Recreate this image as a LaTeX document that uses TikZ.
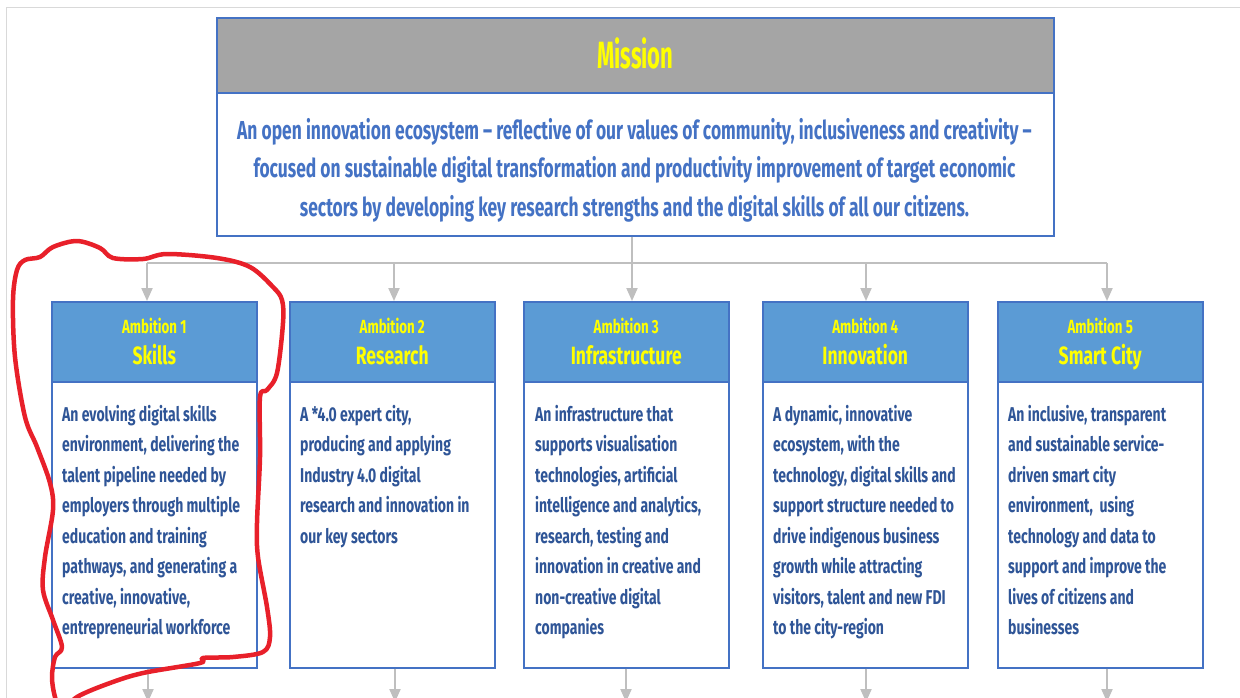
\documentclass[tikz,border=0pt]{standalone}
\usepackage{fontspec}
\setmainfont{Fira Sans}[FakeStretch=0.58]
\newfontfamily\condA{Fira Sans}[FakeStretch=0.67]
\newfontfamily\condB{Fira Sans}[FakeStretch=0.70]
\usetikzlibrary{arrows.meta}
\definecolor{mborder}{HTML}{4472C4}
\definecolor{mgray}{HTML}{A5A5A5}
\definecolor{hfill}{HTML}{5B9BD5}
\definecolor{mtext}{HTML}{4472C4}
\definecolor{btext}{HTML}{2F5597}
\definecolor{ylw}{HTML}{FFFF00}
\definecolor{conngray}{HTML}{BFBFBF}
\definecolor{framegray}{HTML}{D9D9D9}
\definecolor{pen}{HTML}{E8202A}
\begin{document}
\begin{tikzpicture}[x=1pt,y=-1pt,
  box/.style={draw=mborder,line width=1.5pt,anchor=north west,inner sep=0pt},
  mhead/.style={box,fill=mgray,minimum width=837pt,minimum height=75pt,text=ylw,font=\bfseries\fontsize{38}{40}\selectfont},
  mbody/.style={box,fill=white,minimum width=837pt,minimum height=143pt},
  ahead/.style={box,fill=hfill,minimum width=205pt,minimum height=80pt},
  htext/.style={inner sep=0pt,yshift=-2pt,text=ylw,align=center,font=\condB\bfseries\fontsize{25}{31}\selectfont},
  abody/.style={box,fill=white,minimum width=205pt,minimum height=286pt},
  atext/.style={anchor=north west,inner sep=0pt,align=left,text=btext,font=\condB\bfseries\fontsize{20}{30.5}\selectfont},
  conn/.style={draw=conngray,line width=2pt},
  arr/.style={conn,-{Triangle[width=11pt,length=13pt]}}
]
\useasboundingbox (0,0) rectangle (1240,697);
\clip (0,0) rectangle (1240,697);
\fill[white] (0,0) rectangle (1240,697);
\draw[framegray,line width=1pt] (6,700) -- (6,7) -- (1240,7);

% Mission
\node[mhead] (mh) at (216,17) {\raisebox{4pt}{Mission}};
\node[mbody] (mb) at (216,92) {};
\node[align=center,text=mtext,font=\condA\bfseries\fontsize{26}{38.5}\selectfont,inner sep=0pt] (mt) at (634.5,170)
 {An open innovation ecosystem – reflective of our values of community, inclusiveness and creativity –\\
  focused on sustainable digital transformation and productivity improvement of target economic\\
  sectors by developing key research strengths and the digital skills of all our citizens.};

% Ambition boxes
\newcommand{\ahd}[2]{{\fontsize{19}{31}\selectfont #1}\\{\fontsize{25}{31}\selectfont #2\vphantom{y}}}
\node[ahead] (h1) at (51,301) {};
\node[ahead] (h2) at (289,301) {};
\node[ahead] (h3) at (523,301) {};
\node[ahead] (h4) at (762,301) {};
\node[ahead] (h5) at (997,301) {};
\node[htext] (ht1) at (h1.center) {\ahd{Ambition 1}{Skills}};
\node[htext] (ht2) at (h2.center) {\ahd{Ambition 2}{Research}};
\node[htext] (ht3) at (h3.center) {\ahd{Ambition 3}{Infrastructure}};
\node[htext] (ht4) at (h4.center) {\ahd{Ambition 4}{Innovation}};
\node[htext] (ht5) at (h5.center) {\ahd{Ambition 5}{Smart City}};

\node[abody] (b1) at (51,381) {};
\node[abody] (b2) at (289,381) {};
\node[abody] (b3) at (523,381) {};
\node[abody] (b4) at (762,381) {};
\node[abody] (b5) at (997,381) {};

\node[atext] (t1) at (62,405) {An evolving digital skills\\environment, delivering the\\talent pipeline needed by\\employers through multiple\\education and training\\pathways, and generating a\\creative, innovative,\\entrepreneurial workforce};
\node[atext] (t2) at (300,405) {A *4.0 expert city,\\producing and applying\\Industry 4.0 digital\\research and innovation in\\our key sectors};
\node[atext] (t3) at (535,405) {An infrastructure that\\supports visualisation\\technologies, artificial\\intelligence and analytics,\\research, testing and\\innovation in creative and\\non-creative digital\\companies};
\node[atext] (t4) at (773,405) {A dynamic, innovative\\ecosystem, with the\\technology, digital skills and\\support structure needed to\\drive indigenous business\\growth while attracting\\visitors, talent and new FDI\\to the city-region};
\node[atext] (t5) at (1008,405) {An inclusive, transparent\\and sustainable service-\\driven smart city\\environment,\ \ using\\technology and data to\\support and improve the\\lives of citizens and\\businesses};

% Connectors
\coordinate (c1) at (147,263);
\coordinate (c2) at (394,263);
\coordinate (c3) at (632,263);
\coordinate (c4) at (866,263);
\coordinate (c5) at (1107,263);
\draw[conn] (mb.south -| c3) -- (c3);
\draw[conn] (c1) -- (c5);
\foreach \i in {1,...,5}{
  \draw[arr] (c\i) -- (c\i |- h\i.north);
}
\coordinate (e1) at (148,702);
\coordinate (e2) at (395,702);
\coordinate (e3) at (626,702);
\coordinate (e4) at (866,702);
\coordinate (e5) at (1107,702);
\foreach \i in {1,...,5}{
  \draw[arr] (b\i.south -| e\i) -- (e\i);
}

% Red hand-drawn loop
\draw[pen,line width=4.5pt,line join=round] plot[smooth cycle,tension=0.55] coordinates {
(13,300)(17,270)(25,260)(40,257)(53,247)(77,241)(100,248)(113,258)(143,259)(167,254)(217,258)(250,267)(273,287)(282,300)(283,323)(277,373)(267,390)(260,397)(260,457)(257,523)(258,557)(267,607)(270,637)(263,652)(233,657)(203,658)(200,663)(143,673)(110,683)(77,697)(62,712)(55,697)(52,677)(55,657)(62,647)(53,620)(43,590)(45,557)(53,510)(50,483)(37,447)(25,417)(15,357)};
\end{tikzpicture}
\end{document}
